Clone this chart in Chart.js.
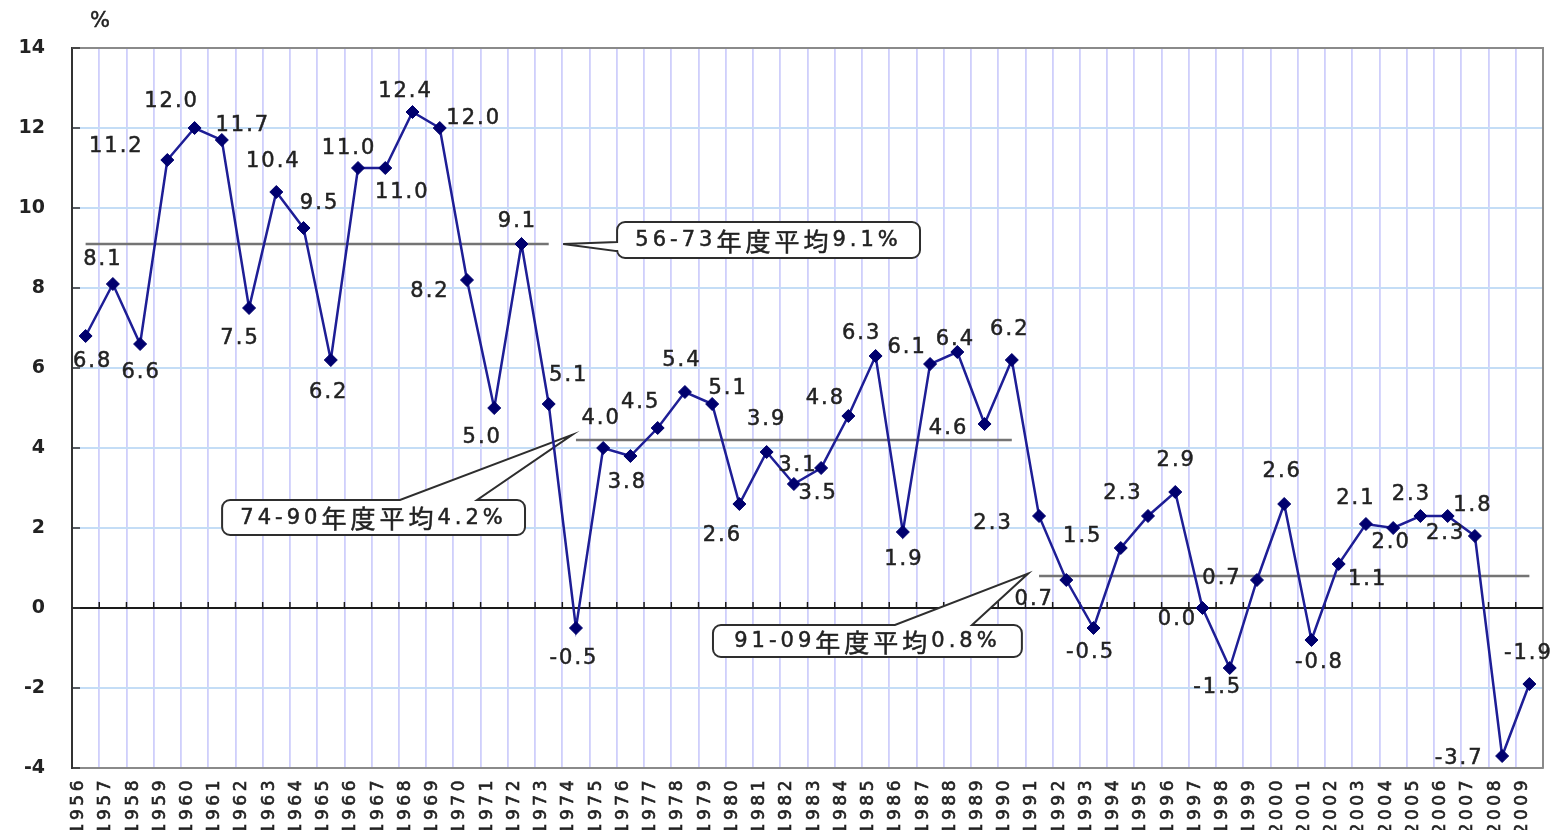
<!DOCTYPE html>
<html lang="ja">
<head>
  <meta charset="UTF-8" />
  <title>実質経済成長率の推移（年度）</title>
  <script src="https://cdn.jsdelivr.net/npm/chart.js"></script>
  <style>
    body {
      margin: 0;
      background: #ffffff;
    }
    #growthChart {
      display: block;
    }
  </style>
</head>
<body>
  <canvas id="growthChart" width="1558" height="830"></canvas>

  <script>
    // fiscal years on the category axis
    const years = [
      '1956', '1957', '1958', '1959', '1960', '1961', '1962', '1963', '1964', '1965',
      '1966', '1967', '1968', '1969', '1970', '1971', '1972', '1973', '1974', '1975',
      '1976', '1977', '1978', '1979', '1980', '1981', '1982', '1983', '1984', '1985',
      '1986', '1987', '1988', '1989', '1990', '1991', '1992', '1993', '1994', '1995',
      '1996', '1997', '1998', '1999', '2000', '2001', '2002', '2003', '2004', '2005',
      '2006', '2007', '2008', '2009'
    ];

    // real growth rate, %
    const growth = [
      6.8, 8.1, 6.6, 11.2, 12.0, 11.7, 7.5, 10.4, 9.5, 6.2,
      11.0, 11.0, 12.4, 12.0, 8.2, 5.0, 9.1, 5.1, -0.5, 4.0,
      3.8, 4.5, 5.4, 5.1, 2.6, 3.9, 3.1, 3.5, 4.8, 6.3,
      1.9, 6.1, 6.4, 4.6, 6.2, 2.3, 0.7, -0.5, 1.5, 2.3,
      2.9, 0.0, -1.5, 0.7, 2.6, -0.8, 1.1, 2.1, 2.0, 2.3,
      2.3, 1.8, -3.7, -1.9
    ];

    // period averages
    const periodStart = ['1956', '1974', '1991'];
    const periodEnd = ['1973', '1990', '2009'];
    const periodAverage = [9.1, 4.2, 0.8];
    const periodText = ['56-73年度平均9.1%', '74-90年度平均4.2%', '91-09年度平均0.8%'];

    const yTicks = [-4, -2, 0, 2, 4, 6, 8, 10, 12, 14];

    // where each value label sits relative to its marker (px)
    const labelShift = [
      [6, 26], [-11, -24], [0, 29], [-52, -13], [-24, -26], [20, -14], [-10, 31], [-4, -30], [15, -24], [-3, 33],
      [-10, -19], [16, 25], [-8, -20], [33, -9], [-38, 12], [-13, 30], [-5, -22], [19, -28],
      [-3, 31], [-3, -29], [-4, 27], [-18, -25], [-4, -31], [15, -15], [-18, 32], [-1, -32], [3, -18], [-4, 26],
      [-24, -17], [-15, -22], [0, 28], [-24, -16], [-3, -12], [-37, 5], [-3, -30],
      [-47, 8], [-33, 20], [-4, 25], [-39, -11], [-26, -22], [0, -31], [-26, 12], [-13, 20], [-36, -1], [-3, -32],
      [7, 23], [28, 16], [-11, -25], [-3, 15], [-10, -21], [-3, 18], [-3, -30], [-44, 3], [-2, -30]
    ];

    // callout boxes in axis units: box = [xFrom, xTo, yTop, yBottom] (category index / %)
    const callouts = [
      { box: [19.51, 30.63, 9.65, 8.75], edge: 'left', base: [9.15, 8.92], tip: [17.53, 9.1] },
      { box: [5.01, 16.13, 2.7, 1.825], edge: 'top', base: [11.54, 14.37], tip: [17.86, 4.33] },
      { box: [23.03, 34.37, -0.425, -1.225], edge: 'top', base: [29.71, 32.54], tip: [34.6, 0.86] }
    ];

    const TEXT_COLOR = '#222222';

    function averageLine(k) {
      const from = years.indexOf(periodStart[k]);
      const to = years.indexOf(periodEnd[k]);
      return years.map((_, i) => (i >= from && i <= to ? periodAverage[k] : null));
    }

    // fill plus a hairline stroke so the small text reads a little heavier
    function heavyText(ctx, s, x, y) {
      ctx.fillText(s, x, y);
      ctx.strokeText(s, x, y);
    }

    // mixed latin / kanji text, each run with its own font and spacing
    function textRuns(text) {
      const runs = [];
      for (const ch of text) {
        const cjk = /[\u3000-\u9fff]/.test(ch);
        const last = runs[runs.length - 1];
        if (last && last.cjk === cjk) last.s += ch;
        else runs.push({ cjk, s: ch });
      }
      return runs;
    }

    function styleRun(ctx, run) {
      if (run.cjk) {
        ctx.font = '25px "Noto Sans CJK JP"';
        ctx.letterSpacing = '4px';
      } else {
        ctx.font = '21px "DejaVu Sans"';
        ctx.letterSpacing = '4px';
      }
    }

    function drawMixedText(ctx, text, cx, cy) {
      const runs = textRuns(text);
      let total = 0;
      runs.forEach(r => { styleRun(ctx, r); r.w = ctx.measureText(r.s).width; total += r.w; });
      let x0 = cx - total / 2;
      ctx.textAlign = 'left';
      ctx.textBaseline = 'middle';
      runs.forEach(r => { styleRun(ctx, r); heavyText(ctx, r.s, x0, cy); x0 += r.w; });
      ctx.letterSpacing = '0px';
    }

    function drawCallout(ctx, xs, ys, c, text) {
      const x0 = xs.getPixelForValue(c.box[0]);
      const x1 = xs.getPixelForValue(c.box[1]);
      const y0 = ys.getPixelForValue(c.box[2]);
      const y1 = ys.getPixelForValue(c.box[3]);
      const tx = xs.getPixelForValue(c.tip[0]);
      const ty = ys.getPixelForValue(c.tip[1]);
      const r = 8;

      ctx.beginPath();
      ctx.moveTo(x0 + r, y0);
      if (c.edge === 'top') {
        ctx.lineTo(xs.getPixelForValue(c.base[0]), y0);
        ctx.lineTo(tx, ty);
        ctx.lineTo(xs.getPixelForValue(c.base[1]), y0);
      }
      ctx.lineTo(x1 - r, y0);
      ctx.arcTo(x1, y0, x1, y0 + r, r);
      ctx.lineTo(x1, y1 - r);
      ctx.arcTo(x1, y1, x1 - r, y1, r);
      ctx.lineTo(x0 + r, y1);
      ctx.arcTo(x0, y1, x0, y1 - r, r);
      if (c.edge === 'left') {
        ctx.lineTo(x0, ys.getPixelForValue(c.base[1]));
        ctx.lineTo(tx, ty);
        ctx.lineTo(x0, ys.getPixelForValue(c.base[0]));
      }
      ctx.lineTo(x0, y0 + r);
      ctx.arcTo(x0, y0, x0 + r, y0, r);
      ctx.closePath();
      ctx.fillStyle = '#ffffff';
      ctx.fill();
      ctx.strokeStyle = '#2e2e2e';
      ctx.lineWidth = 2;
      ctx.stroke();

      ctx.fillStyle = TEXT_COLOR;
      ctx.strokeStyle = TEXT_COLOR;
      ctx.lineWidth = 0.5;
      drawMixedText(ctx, text, (x0 + x1) / 2, (y0 + y1) / 2 + 1);
    }

    const chartDecor = {
      id: 'chartDecor',
      beforeDatasetsDraw(chart) {
        const { ctx, chartArea: a, scales: { x, y } } = chart;
        ctx.save();

        // plot frame (top / right)
        ctx.strokeStyle = '#8a8a8a';
        ctx.lineWidth = 2;
        ctx.beginPath();
        ctx.moveTo(a.left, a.top);
        ctx.lineTo(a.right, a.top);
        ctx.lineTo(a.right, a.bottom);
        ctx.stroke();

        // zero line with small marks between years
        const y0 = Math.round(y.getPixelForValue(0));
        ctx.strokeStyle = '#1a1a1a';
        ctx.lineWidth = 2;
        ctx.beginPath();
        ctx.moveTo(a.left, y0);
        ctx.lineTo(a.right, y0);
        ctx.stroke();
        ctx.lineWidth = 1.5;
        ctx.beginPath();
        for (let i = 1; i < years.length; i++) {
          const px = x.getPixelForValue(i - 0.5);
          ctx.moveTo(px, y0);
          ctx.lineTo(px, y0 - 6);
        }
        ctx.stroke();

        // inward tick marks on the value axis
        ctx.strokeStyle = '#333333';
        ctx.beginPath();
        yTicks.forEach(v => {
          const py = y.getPixelForValue(v);
          ctx.moveTo(a.left, py);
          ctx.lineTo(a.left + 8, py);
        });
        ctx.stroke();

        callouts.forEach((c, k) => drawCallout(ctx, x, y, c, periodText[k]));
        ctx.restore();
      },
      afterDatasetsDraw(chart) {
        const { ctx, chartArea: a, scales: { x, y } } = chart;
        ctx.save();
        ctx.fillStyle = TEXT_COLOR;
        ctx.strokeStyle = TEXT_COLOR;
        ctx.lineWidth = 0.5;
        ctx.font = '21px "DejaVu Sans"';
        ctx.letterSpacing = '2px';
        ctx.textAlign = 'center';
        ctx.textBaseline = 'middle';
        growth.forEach((v, i) => {
          const px = x.getPixelForValue(i) + labelShift[i][0];
          const py = y.getPixelForValue(v) + labelShift[i][1];
          heavyText(ctx, v.toFixed(1), px + 1, py);
        });

        // year labels, read bottom to top
        ctx.font = '17px "DejaVu Sans"';
        ctx.letterSpacing = '3.5px';
        ctx.lineWidth = 0.6;
        ctx.textAlign = 'right';
        years.forEach((yr, i) => {
          ctx.save();
          ctx.translate(x.getPixelForValue(i) - 7, a.bottom + 9);
          ctx.rotate(-Math.PI / 2);
          heavyText(ctx, yr, 0, 0);
          ctx.restore();
        });

        // unit
        ctx.letterSpacing = '0px';
        ctx.lineWidth = 0.5;
        ctx.font = '21px "DejaVu Sans"';
        ctx.textAlign = 'center';
        heavyText(ctx, '%', a.left + 28, a.top - 26);
        ctx.restore();
      }
    };

    const ctx = document.getElementById('growthChart').getContext('2d');
    new Chart(ctx, {
      type: 'line',
      data: {
        labels: years,
        datasets: [
          {
            label: '実質経済成長率',
            data: growth,
            borderColor: '#1e1e96',
            borderWidth: 2.5,
            pointStyle: 'rectRot',
            pointRadius: 6.5,
            pointBackgroundColor: '#00006e',
            pointBorderColor: '#00006e',
            pointBorderWidth: 1,
            tension: 0,
            order: 0
          },
          ...periodAverage.map((_, k) => ({
            label: periodText[k],
            data: averageLine(k),
            borderColor: '#747474',
            borderWidth: 2.5,
            pointRadius: 0,
            spanGaps: false,
            order: 1
          }))
        ]
      },
      options: {
        responsive: false,
        animation: false,
        layout: { padding: { left: 0, top: 48, right: 15, bottom: 0 } },
        plugins: {
          legend: { display: false },
          tooltip: { enabled: false }
        },
        scales: {
          x: {
            type: 'category',
            offset: true,
            grid: {
              offset: true,
              color: '#cfcffb',
              lineWidth: 1.8,
              drawTicks: false
            },
            border: { color: '#8a8a8a', width: 2 },
            ticks: { display: false },
            afterFit: (scale) => { scale.height = 62; }
          },
          y: {
            min: -4,
            max: 14,
            afterBuildTicks: (scale) => { scale.ticks = yTicks.map(v => ({ value: v })); },
            grid: {
              color: (c) => (c.tick && c.tick.value === 0 ? 'rgba(0,0,0,0)' : '#c4ddf6'),
              lineWidth: 2,
              drawTicks: false
            },
            border: { color: '#333333', width: 2 },
            ticks: {
              color: '#222222',
              padding: 27,
              font: { family: 'DejaVu Sans', size: 19, weight: 'bold' }
            },
            afterFit: (scale) => { scale.width = 72; }
          }
        }
      },
      plugins: [chartDecor]
    });
  </script>
</body>
</html>
